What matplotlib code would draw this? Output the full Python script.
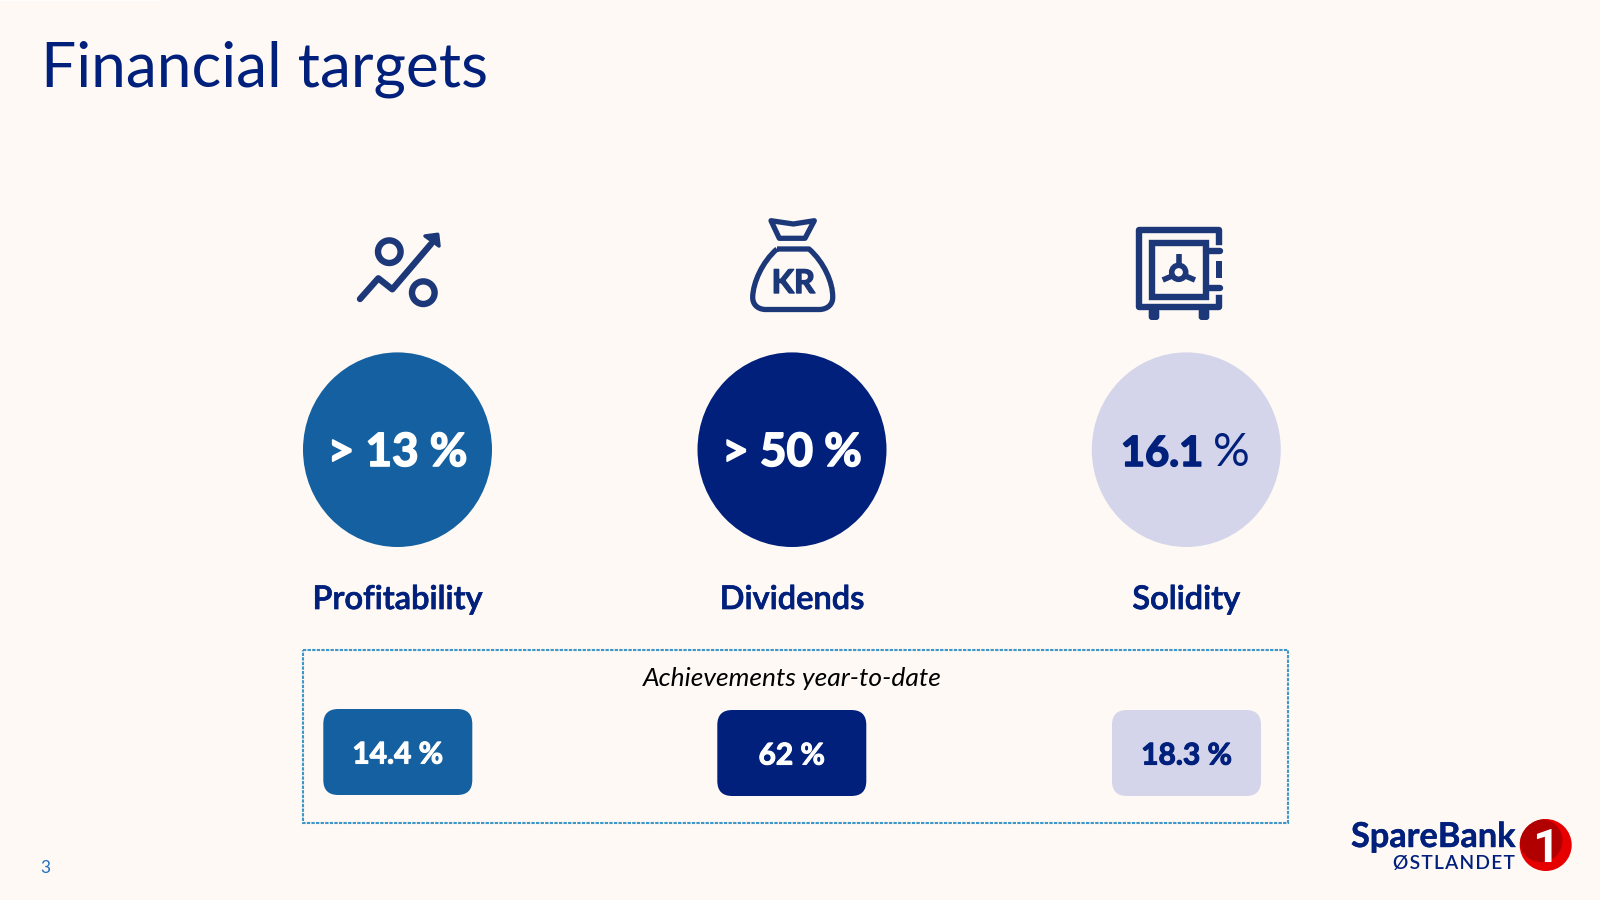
"""Financial targets slide"""
import matplotlib
matplotlib.use("Agg")
import matplotlib.pyplot as plt
import matplotlib.patheffects as pe
from matplotlib.patches import Circle, Ellipse, FancyBboxPatch, Polygon, Rectangle, PathPatch
from matplotlib.path import Path

# 数据
labels = ["Profitability", "Dividends", "Solidity"]
target_values = ["> 13 %", "> 50 %", "16.1"]
achieved_values = ["14.4 %", "62 %", "18.3 %"]

BG = "#FEF9F5"
BLUE = "#1460A0"
NAVY = "#00207C"
LIGHT = "#D4D5EA"
ICON = "#1C3879"
DASH = "#3F97C8"

plt.rcParams["font.family"] = ["Lato", "DejaVu Sans"]


def heavy(color, width=1.0):
    """Lato 没有更粗的字重, 用描边加粗"""
    return [pe.withStroke(linewidth=width, foreground=color)]


fig = plt.figure(figsize=(16, 9), dpi=100, facecolor=BG)
ax = fig.add_axes([0, 0, 1, 1])
ax.set_xlim(0, 1600)
ax.set_ylim(900, 0)
ax.axis("off")

centers = [397.5, 792, 1186.3]
fills = [BLUE, NAVY, LIGHT]
text_colors = ["white", "white", NAVY]

ax.add_patch(Rectangle((0, 0), 160, 1.2, fc="white", ec="none"))
ax.text(41, 86.7, "Financial targets", fontsize=44.8, color=NAVY, va="baseline", ha="left")

# 圆形目标和标签
for i, cx in enumerate(centers):
    ax.add_patch(Ellipse((cx, 449.7), 189, 194.6, fc=fills[i], ec="none"))
    if i < 2:
        ax.text(cx, 466, target_values[i], fontsize=33, fontweight="bold", color=text_colors[i],
                ha="center", va="baseline", path_effects=heavy(text_colors[i], 1.2))
    else:
        ax.text(1203, 466, target_values[i], fontsize=30, fontweight="bold", color=text_colors[i],
                ha="right", va="baseline", path_effects=heavy(text_colors[i], 1.2))
        ax.text(1213, 466, "%", fontsize=33, color=text_colors[i], ha="left", va="baseline")
    ax.text(cx, 609, labels[i], fontsize=23.5, fontweight="semibold", color=NAVY, ha="center", va="baseline",
            path_effects=heavy(NAVY, 0.5))

# 年初至今
ax.add_patch(Rectangle((302.7, 649.7), 985.3, 172.8, fc="none", ec=DASH, lw=1.5,
                       linestyle=(0, (1.6, 0.6))))
ax.text(792, 686, "Achievements year-to-date", fontsize=19, style="italic", color="black",
        ha="center", va="baseline")
rect_left = [323.3, 717.3, 1112]
rect_top = [709, 710, 710]
for i, x0 in enumerate(rect_left):
    ax.add_patch(FancyBboxPatch((x0, rect_top[i]), 149, 86, boxstyle="round,pad=0,rounding_size=15",
                                fc=fills[i], ec="none"))
    ax.text(x0 + 74.5, rect_top[i] + 54.5, achieved_values[i], fontsize=21.5, fontweight="bold",
            color=text_colors[i], ha="center", va="baseline", path_effects=heavy(text_colors[i], 0.8))

# 图标: 百分比
lw = 4.6
ax.plot([360, 378.3, 392.3, 431], [299, 278.3, 289.3, 244], color=ICON, lw=lw,
        solid_capstyle="round", solid_joinstyle="round")
ax.add_patch(Polygon([(425, 236), (437.7, 234.3), (439, 246)], closed=True, fc=ICON, ec=ICON,
                     lw=2.5, joinstyle="round"))
ax.add_patch(Circle((389.3, 251.7), 11.3, fc="none", ec=ICON, lw=lw))
ax.add_patch(Circle((423.3, 292.7), 11.3, fc="none", ec=ICON, lw=lw))

# 图标: 钱袋
ax.add_patch(Polygon([(771, 220.7), (793.3, 224), (814.3, 220.7), (805, 238.3), (779.3, 238.3)],
                     closed=True, fc="none", ec=ICON, lw=3.8, joinstyle="round"))
bag = Path(
    [(777, 249), (809, 249),
     (824, 262), (833, 283), (832.7, 297),
     (833, 304), (828, 309), (820, 309.5),
     (765, 309.5),
     (757, 309), (752.5, 304), (752.7, 297),
     (753, 283), (762, 262), (777, 249)],
    [Path.MOVETO, Path.LINETO,
     Path.CURVE4, Path.CURVE4, Path.CURVE4,
     Path.CURVE4, Path.CURVE4, Path.CURVE4,
     Path.LINETO,
     Path.CURVE4, Path.CURVE4, Path.CURVE4,
     Path.CURVE4, Path.CURVE4, Path.CURVE4])
ax.add_patch(PathPatch(bag, fc="none", ec=ICON, lw=3.8, joinstyle="round"))
ax.text(793.3, 293, "KR", fontsize=23.5, fontweight="bold", color=ICON, ha="center", va="baseline",
        path_effects=heavy(ICON, 1.0))

# 图标: 保险柜
ax.plot([1219.3, 1219.3, 1138.7, 1138.7, 1219.3, 1219.3],
        [242, 230.3, 230.3, 307, 307, 297.7], color=ICON, lw=lw, solid_joinstyle="round")
ax.add_patch(Rectangle((1152.3, 243.3), 53.7, 53.7, fc="none", ec=ICON, lw=lw))
ax.plot([1206, 1220], [251, 251], color=ICON, lw=lw, solid_capstyle="round")
ax.plot([1206, 1220], [288.3, 288.3], color=ICON, lw=lw, solid_capstyle="round")
ax.add_patch(Rectangle((1216, 261), 6.3, 17.3, fc=ICON, ec="none"))
for foot_x in [1148.7, 1198.7]:
    ax.add_patch(FancyBboxPatch((foot_x, 308), 10.6, 12, boxstyle="round,pad=0,rounding_size=3",
                                fc=ICON, ec="none"))
ax.add_patch(Circle((1178.7, 272.3), 7, fc="none", ec=ICON, lw=4))
ax.plot([1178.7, 1178.7], [253.5, 264], color=ICON, lw=4, solid_capstyle="butt")
ax.plot([1162.7, 1172], [280, 276], color=ICON, lw=4, solid_capstyle="butt")
ax.plot([1195, 1185.5], [280, 276], color=ICON, lw=4, solid_capstyle="butt")

# 页码和标志
ax.text(45, 873, "3", fontsize=12.5, color="#1E6FBF", ha="center", va="baseline")
ax.text(1351, 847, "SpareBank", fontsize=24.7, fontweight="bold", color=NAVY,
        ha="left", va="baseline", path_effects=heavy(NAVY, 0.3))
ax.text(1515, 869, "\u200a".join("ØSTLANDET"), fontsize=13.8, fontweight="semibold", color=NAVY,
        ha="right", va="baseline")
red = Circle((1545.7, 845), 26, fc="#E60000", ec="none")
ax.add_patch(red)
dark = Circle((1541, 840.7), 21.5, fc="#B00000", ec="none")
ax.add_patch(dark)
dark.set_clip_path(red)
ax.text(1546, 861.5, "1", fontsize=34, fontweight="bold", family="Roboto", color="white",
        ha="center", va="baseline")

fig.savefig("out.png", dpi=100, facecolor=BG)
